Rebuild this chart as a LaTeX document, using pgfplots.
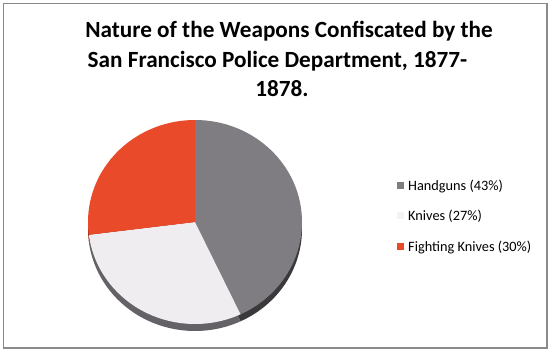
\documentclass[border=0pt]{standalone}
\usepackage{pgfplots}
\usepackage{pgfplotstable}
\pgfplotsset{compat=1.18}
\usepackage{fontspec}
\setmainfont{Carlito}
\definecolor{sliceGray}{RGB}{127,125,129}
\definecolor{sliceLight}{RGB}{240,237,241}
\definecolor{sliceRed}{RGB}{232,74,42}
\definecolor{rimGray}{RGB}{58,58,60}
\definecolor{rimLight}{RGB}{100,98,102}
\definecolor{rimRed}{RGB}{150,45,25}
\definecolor{frameGray}{RGB}{138,138,138}
% slice shares as drawn in the chart (percent)
\pgfplotstableread{
label value
Handguns 43
Knives 30
Fighting 27
}\piedata
\pgfplotstablegetelem{0}{value}\of\piedata \let\vA\pgfplotsretval
\pgfplotstablegetelem{1}{value}\of\piedata \let\vB\pgfplotsretval
\pgfplotstablegetelem{2}{value}\of\piedata \let\vC\pgfplotsretval
\pgfmathsetmacro\aA{90}
\pgfmathsetmacro\aB{\aA-3.6*\vA}
\pgfmathsetmacro\aC{\aB-3.6*\vB}
\pgfmathsetmacro\aD{\aC-3.6*\vC}
\begin{document}%
\begin{tikzpicture}
\begin{axis}[at={(0,0)}, anchor=south west, scale only axis,
  width=551bp, height=352bp, xmin=0, xmax=551, ymin=0, ymax=352,
  y dir=reverse, hide axis, clip=false]
\fill[white] (axis cs:0,0) rectangle (axis cs:551,352);
\draw[frameGray, line width=1.5bp] (axis cs:3.5,3.5) -- (axis cs:547,3.5) -- (axis cs:547,348) -- (axis cs:3.5,348) -- cycle;
% title
\node[font=\fontsize{23.2bp}{29bp}\selectfont\bfseries, anchor=base] at (axis cs:289,37) {Nature of the Weapons Confiscated by the};
\node[font=\fontsize{23.2bp}{29bp}\selectfont\bfseries, anchor=base] at (axis cs:277.5,67) {San Francisco Police Department, 1877-};
\node[font=\fontsize{23.2bp}{29bp}\selectfont\bfseries, anchor=base] at (axis cs:282,96.5) {1878.};
% rim (depth)
\fill[rimGray] (axis cs:195,229) -- ++(\aA:107bp and 102bp) arc[start angle=\aA, end angle=\aB, x radius=107bp, y radius=102bp] -- cycle;
\fill[rimLight] (axis cs:195,229) -- ++(\aB:107bp and 102bp) arc[start angle=\aB, end angle=\aC, x radius=107bp, y radius=102bp] -- cycle;
\fill[rimRed] (axis cs:195,229) -- ++(\aC:107bp and 102bp) arc[start angle=\aC, end angle=\aD, x radius=107bp, y radius=102bp] -- cycle;
% faces
\fill[sliceGray] (axis cs:195,222) -- ++(\aA:107bp and 102bp) arc[start angle=\aA, end angle=\aB, x radius=107bp, y radius=102bp] -- cycle;
\fill[sliceLight] (axis cs:195,222) -- ++(\aB:107bp and 102bp) arc[start angle=\aB, end angle=\aC, x radius=107bp, y radius=102bp] -- cycle;
\fill[sliceRed] (axis cs:195,222) -- ++(\aC:107bp and 102bp) arc[start angle=\aC, end angle=\aD, x radius=107bp, y radius=102bp] -- cycle;
% legend
\fill[sliceGray] (axis cs:397,182) rectangle (axis cs:404,189);
\fill[sliceLight!80!gray!30!white] (axis cs:397,212) rectangle (axis cs:404,219);
\fill[sliceRed] (axis cs:397,243) rectangle (axis cs:404,250);
\node[font=\fontsize{14.3bp}{17bp}\selectfont, anchor=base west, inner sep=0pt] at (axis cs:408,190.5) {Handguns (43\%)};
\node[font=\fontsize{14.3bp}{17bp}\selectfont, anchor=base west, inner sep=0pt] at (axis cs:408,220.5) {Knives (27\%)};
\node[font=\fontsize{14.3bp}{17bp}\selectfont, anchor=base west, inner sep=0pt] at (axis cs:408,251.5) {Fighting Knives (30\%)};
\end{axis}
\end{tikzpicture}%
\end{document}
